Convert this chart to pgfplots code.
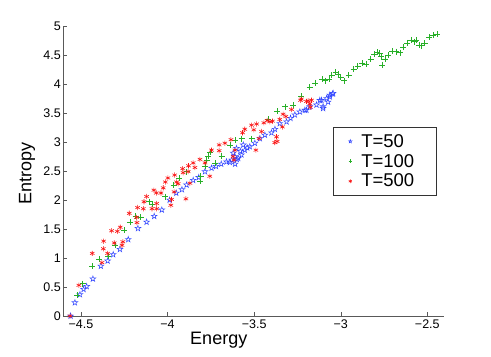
\documentclass[border=0pt]{standalone}
\usepackage{fontspec}
\setmainfont{Liberation Sans}
\usepackage{pgfplots}
\pgfplotsset{compat=1.18}
\usetikzlibrary{calc,plotmarks}

\definecolor{mblue}{RGB}{50,70,255}
\definecolor{mgreen}{RGB}{40,175,40}
\definecolor{mred}{RGB}{250,20,20}

% MATLAB-like pentagram marker
\pgfdeclareplotmark{pentagram}{%
  \pgfpathmoveto{\pgfpointpolar{90}{\pgfplotmarksize}}%
  \pgfpathlineto{\pgfpointpolar{126}{0.382\pgfplotmarksize}}%
  \pgfpathlineto{\pgfpointpolar{162}{\pgfplotmarksize}}%
  \pgfpathlineto{\pgfpointpolar{198}{0.382\pgfplotmarksize}}%
  \pgfpathlineto{\pgfpointpolar{234}{\pgfplotmarksize}}%
  \pgfpathlineto{\pgfpointpolar{270}{0.382\pgfplotmarksize}}%
  \pgfpathlineto{\pgfpointpolar{306}{\pgfplotmarksize}}%
  \pgfpathlineto{\pgfpointpolar{342}{0.382\pgfplotmarksize}}%
  \pgfpathlineto{\pgfpointpolar{18}{\pgfplotmarksize}}%
  \pgfpathlineto{\pgfpointpolar{54}{0.382\pgfplotmarksize}}%
  \pgfpathclose
  \pgfusepathqstroke
}

\begin{document}
\begin{tikzpicture}
\begin{axis}[
    scale only axis,
    width=381pt, height=290pt,
    xmin=-4.602, xmax=-2.402,
    ymin=0, ymax=5,
    axis x line*=bottom, axis y line*=left,
    axis line style={black!65},
    tick style={black!65},
    tick align=inside,
    major tick length=4pt,
    xtick={-4.5,-4,-3.5,-3,-2.5},
    xticklabels={−4.5,−4,−3.5,−3,−2.5},
    ytick={0,0.5,1,1.5,2,2.5,3,3.5,4,4.5,5},
    yticklabels={0,0.5,1,1.5,2,2.5,3,3.5,4,4.5,5},
    tick label style={font=\fontsize{12.5}{14}\selectfont},
    yticklabel style={xshift=1pt},
    /pgf/number format/assume math mode=true,
    xlabel={Energy}, ylabel={Entropy},
    x label style={at={(axis description cs:0.408,-0.0966)}, anchor=base, font=\fontsize{18}{20}\selectfont},
    y label style={at={(axis description cs:-0.0835,0.49)}, anchor=base, font=\fontsize{18}{20}\selectfont},
    legend style={at={(axis description cs:0.708,0.652)}, anchor=north west,
        draw=black!80, line width=0.5pt, fill=white,
        font=\fontsize{18.5}{20}\selectfont,
        inner xsep=4pt, inner ysep=5pt, row sep=1.5pt,
        legend cell align=left},
    legend image code/.code={\path[draw=none] (0pt,0pt) -- (22pt,0pt);
        \draw[mark size=1.8pt] plot coordinates {(13pt,0pt)};},
]

% T=50
\addplot[only marks, mark=pentagram, mark size=3pt, mblue, line width=0.5pt] table {
-4.560 0.00
-4.535 0.23
-4.506 0.37
-4.485 0.46
-4.467 0.51
-4.431 0.64
-4.385 0.86
-4.346 0.95
-4.314 1.06
-4.275 1.15
-4.227 1.32
-4.171 1.51
-4.121 1.62
-4.077 1.72
-4.033 1.83
-3.988 2.00
-3.950 2.12
-3.917 2.18
-3.890 2.26
-3.852 2.34
-3.820 2.39
-3.784 2.49
-3.746 2.55
-3.720 2.58
-3.690 2.62
-3.660 2.66
-3.640 2.65
-3.630 2.69
-3.611 2.75
-3.610 2.62
-3.621 2.81
-3.600 2.70
-3.592 2.72
-3.573 2.78
-3.580 2.84
-3.602 2.89
-3.563 2.95
-3.554 2.86
-3.540 2.90
-3.525 2.92
-3.496 2.98
-3.467 3.06
-3.438 3.12
-3.400 3.16
-3.380 3.22
-3.352 3.32
-3.313 3.35
-3.290 3.41
-3.265 3.47
-3.236 3.52
-3.207 3.55
-3.198 3.55
-3.179 3.61
-3.140 3.64
-3.121 3.72
-3.102 3.61
-3.102 3.58
-3.111 3.72
-3.082 3.75
-3.073 3.69
-3.063 3.78
-3.063 3.81
-3.048 3.83
-3.044 3.84
};
\addlegendentry{T=50\hspace*{16pt}}

% T=100
\addplot[only marks, mark=+, mark size=3pt, mgreen, line width=0.5pt] table {
-4.521 0.36
-4.490 0.56
-4.435 0.86
-4.394 0.98
-4.342 1.03
-4.302 1.22
-4.250 1.48
-4.217 1.62
-4.184 1.72
-4.156 1.70
-4.106 1.97
-4.090 1.93
-4.013 2.06
-3.965 2.26
-3.935 2.38
-3.890 2.49
-3.813 2.32
-3.809 2.41
-3.784 2.58
-3.775 2.69
-3.765 2.75
-3.756 2.83
-3.727 2.63
-3.688 2.75
-3.640 2.95
-3.611 3.03
-3.573 3.06
-3.515 3.06
-3.419 3.39
-3.367 3.53
-3.323 3.61
-3.275 3.64
-3.227 3.79
-3.179 3.94
-3.150 4.02
-3.108 4.08
-3.092 4.06
-3.069 4.08
-3.053 4.15
-3.030 4.21
-3.015 4.17
-3.000 4.12
-2.981 4.06
-2.954 4.15
-2.925 4.25
-2.902 4.31
-2.875 4.36
-2.852 4.34
-2.827 4.43
-2.807 4.52
-2.790 4.55
-2.775 4.53
-2.767 4.47
-2.761 4.33
-2.744 4.43
-2.727 4.50
-2.702 4.57
-2.679 4.56
-2.659 4.54
-2.640 4.63
-2.617 4.71
-2.592 4.76
-2.573 4.73
-2.563 4.76
-2.548 4.67
-2.534 4.66
-2.515 4.70
-2.490 4.81
-2.467 4.84
-2.444 4.86
};
\addlegendentry{T=100\hspace*{16pt}}

% T=500
\addplot[only marks, mark=asterisk, mark size=2.6pt, mred, line width=0.6pt] table {
-4.563 0.00
-4.512 0.53
-4.435 1.08
-4.369 1.29
-4.371 1.16
-4.346 1.08
-4.379 0.92
-4.323 1.47
-4.290 1.46
-4.273 1.53
-4.308 1.26
-4.258 1.28
-4.263 1.22
-4.221 1.77
-4.179 1.70
-4.173 1.87
-4.177 1.61
-4.136 1.97
-4.121 2.06
-4.140 1.85
-4.079 2.17
-4.063 1.94
-4.065 2.12
-4.090 1.85
-4.063 1.85
-4.038 2.12
-4.025 2.21
-4.013 2.31
-3.998 2.38
-3.981 1.91
-3.977 2.01
-3.959 2.43
-3.962 2.14
-3.948 2.31
-3.939 2.28
-3.913 2.54
-3.910 2.47
-3.894 2.02
-3.879 2.59
-3.881 2.49
-3.852 2.64
-3.842 2.56
-3.871 2.29
-3.813 2.70
-3.784 2.64
-3.756 2.41
-3.746 2.86
-3.702 2.85
-3.702 2.95
-3.669 2.98
-3.634 3.04
-3.611 2.86
-3.621 2.75
-3.617 2.69
-3.567 3.16
-3.554 3.22
-3.515 3.29
-3.502 3.21
-3.486 3.31
-3.490 2.86
-3.471 3.06
-3.457 3.18
-3.444 3.33
-3.425 3.37
-3.409 3.35
-3.394 3.36
-3.381 2.99
-3.371 3.09
-3.367 3.01
-3.352 3.39
-3.333 3.48
-3.317 3.44
-3.337 3.26
-3.284 3.56
-3.232 3.72
-3.227 3.74
-3.198 3.70
-3.188 3.71
-3.179 3.66
-3.169 3.72
-3.175 3.60
};
\addlegendentry{T=500\hspace*{16pt}}

\end{axis}
\path ($(current axis.south west)+(-63.3pt,-41pt)$) rectangle ($(current axis.north east)+(46.7pt,26pt)$);
\end{tikzpicture}
\end{document}
